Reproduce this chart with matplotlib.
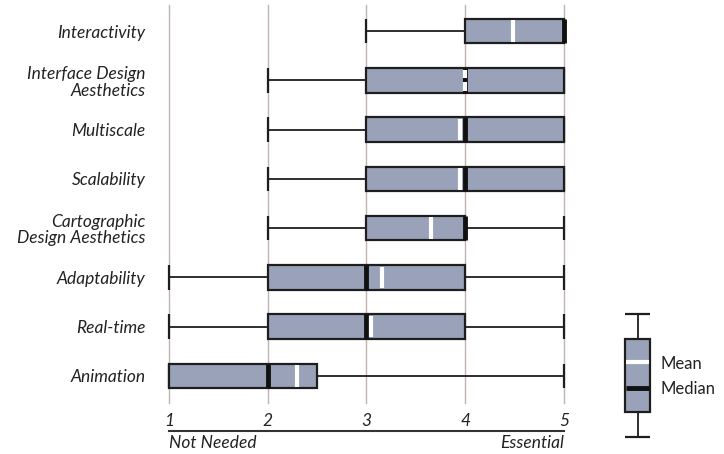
import matplotlib
matplotlib.use("Agg")
from matplotlib import pyplot as plt
from matplotlib.transforms import blended_transform_factory

# rows listed top to bottom
features = [
    "Interactivity",
    "Interface Design\nAesthetics",
    "Multiscale",
    "Scalability",
    "Cartographic\nDesign Aesthetics",
    "Adaptability",
    "Real-time",
    "Animation",
]
whisker_low = [3, 2, 2, 2, 2, 1, 1, 1]
q1 = [4, 3, 3, 3, 3, 2, 2, 1]
medians = [5, 4, 4, 4, 4, 3, 3, 2]
q3 = [5, 5, 5, 5, 4, 4, 4, 2.5]
whisker_high = [5, 5, 5, 5, 5, 5, 5, 5]
means = [4.48, 4.0, 3.95, 3.95, 3.65, 3.16, 3.05, 2.3]
scale_ticks = [1, 2, 3, 4, 5]

BOX = "#99a2b8"
EDGE = "#1e1e1e"
GRID = "#bfb4ae"
FONT = "Lato"

W, H = 724, 454
fig = plt.figure(figsize=(W / 100, H / 100), dpi=100)


def px_axes(left, top, right, bottom):
    return fig.add_axes([left / W, 1 - bottom / H, (right - left) / W, (bottom - top) / H])


ax = px_axes(169, 5, 564, 403)
rows = list(range(len(features)))
box_h = 0.5

for x in scale_ticks:
    ax.axvline(x, color=GRID, lw=1.0, zorder=0, clip_on=False)

for i in rows:
    ax.hlines(i, whisker_low[i], q1[i], color=EDGE, lw=1.3, zorder=1, clip_on=False)
    ax.hlines(i, q3[i], whisker_high[i], color=EDGE, lw=1.3, zorder=1, clip_on=False)
    for w in (whisker_low[i], whisker_high[i]):
        ax.vlines(w, i - box_h / 2, i + box_h / 2, color=EDGE, lw=1.6, zorder=1, clip_on=False)
    ax.barh(i, q3[i] - q1[i], left=q1[i], height=box_h, color=BOX,
            edgecolor=EDGE, linewidth=1.6, zorder=2, clip_on=False)
    ax.vlines(medians[i], i - box_h / 2, i + box_h / 2, color="#111111", lw=3.5, zorder=3, clip_on=False)
    ax.vlines(means[i], i - box_h / 2 + 0.03, i + box_h / 2 - 0.03, color="white", lw=3.0, zorder=4, clip_on=False)
    if abs(means[i] - medians[i]) < 0.02:
        # mean and median coincide: keep a small dark mark in the middle
        ax.vlines(medians[i], i - 0.04, i + 0.04, color="#111111", lw=3.0, zorder=5, clip_on=False)

ax.set_xlim(1, 5)
ax.set_ylim(7.55, -0.53)
ax.set_xticks(scale_ticks)
ax.set_xticklabels([str(t) for t in scale_ticks], fontsize=12.5, style="italic", family=FONT, color="#222222")
ax.tick_params(axis="x", length=0, pad=7)
ax.set_yticks(rows)
ax.set_yticklabels(features, fontsize=12.5, style="italic", family=FONT, color="#222222",
                   linespacing=1.05)
ax.tick_params(axis="y", length=0, pad=17)
for lbl in ax.get_yticklabels():
    lbl.set_multialignment("right")
for s in ax.spines.values():
    s.set_visible(False)

# scale line and end labels below the axis
tr = blended_transform_factory(ax.transData, ax.transAxes)
ax.plot([1, 5], [-0.071, -0.071], color="#333333", lw=1.5, transform=tr, clip_on=False)
ax.text(1, -0.1, "Not Needed", transform=tr, ha="left", va="center", fontsize=12.5,
        style="italic", family=FONT, color="#222222")
ax.text(5, -0.1, "Essential", transform=tr, ha="right", va="center", fontsize=12.5,
        style="italic", family=FONT, color="#222222")

# legend glyph drawn in pixel space
lg = px_axes(0, 0, W, H)
lg.set_xlim(0, W)
lg.set_ylim(H, 0)
lg.axis("off")
cx = 637.5
lg.vlines(cx, 314, 339, color=EDGE, lw=1.3)
lg.vlines(cx, 412, 437, color=EDGE, lw=1.3)
lg.hlines([314, 437], 625, 650, color=EDGE, lw=1.6)
lg.add_patch(plt.Rectangle((625, 339), 25, 73, facecolor=BOX, edgecolor=EDGE, lw=1.6))
lg.hlines(362, 625.8, 649.2, color="white", lw=3.0)
lg.hlines(388, 625.8, 649.2, color="#111111", lw=3.5)
lg.text(661, 364, "Mean", fontsize=12, family=FONT, va="center", color="#222222")
lg.text(661, 389, "Median", fontsize=12, family=FONT, va="center", color="#222222")

fig.savefig("out.png", dpi=100)
